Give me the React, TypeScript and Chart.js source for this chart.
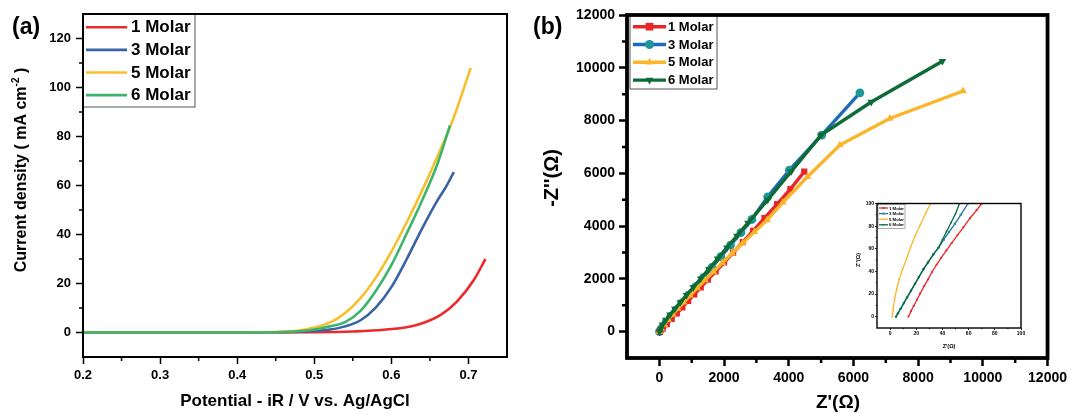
import React, { useEffect, useRef } from 'react';
import { Chart, registerables } from 'chart.js';
Chart.register(...registerables);

const FONT = '"Liberation Sans", Arial, Helvetica, sans-serif';

const SERIES_LABELS = ['1 Molar', '3 Molar', '5 Molar', '6 Molar'];

// ---------- (a) LSV : potential (V) vs current density (mA cm-2)
const lsvV_1M = [0.2, 0.3, 0.4, 0.5, 0.55, 0.59, 0.633, 0.664, 0.685, 0.707, 0.722];
const lsvJ_1M = [0, 0, 0, 0.1, 0.4, 1.1, 3.1, 7.2, 12.6, 21.4, 30.0];
const lsvV_3M = [0.2, 0.3, 0.4, 0.45, 0.5, 0.52, 0.54, 0.56, 0.58, 0.6, 0.62, 0.64, 0.66, 0.671, 0.681];
const lsvJ_3M = [0, 0, 0, 0.1, 0.6, 1.2, 2.5, 5.0, 10.3, 18.5, 30, 42.5, 54, 59.5, 65.5];
const lsvV_5M = [0.2, 0.3, 0.4, 0.45, 0.48, 0.5, 0.52, 0.54, 0.56, 0.58, 0.6, 0.62, 0.64, 0.66, 0.68, 0.703];
const lsvJ_5M = [0, 0, 0, 0.2, 0.8, 2.0, 4.0, 8.0, 14.0, 22.5, 33, 45, 58, 72, 87, 108];
const lsvV_6M = [0.2, 0.3, 0.4, 0.45, 0.48, 0.5, 0.52, 0.54, 0.56, 0.58, 0.6, 0.62, 0.64, 0.66, 0.676];
const lsvJ_6M = [0, 0, 0, 0.1, 0.5, 1.2, 2.5, 4.2, 8.8, 17, 27.5, 40.5, 54, 69, 84.5];

const LSV_X_TICKS = [0.2, 0.3, 0.4, 0.5, 0.6, 0.7];
const LSV_X_MINOR = [0.25, 0.35, 0.45, 0.55, 0.65];
const LSV_Y_TICKS = [0, 20, 40, 60, 80, 100, 120];
const LSV_Y_MINOR = [10, 30, 50, 70, 90, 110];

// ---------- (b) Nyquist : Z' vs -Z'' (ohm)
const eisX_1M = [14, 100, 230, 380, 540, 710, 890, 1080, 1280, 1500, 1740, 2000, 2280, 2580, 2900, 3250, 3640, 4050, 4480];
const eisY_1M = [0, 110, 280, 480, 690, 920, 1160, 1410, 1680, 1970, 2280, 2620, 2990, 3390, 3820, 4300, 4830, 5400, 6060];
const eisX_3M = [5, 80, 200, 350, 520, 700, 900, 1120, 1360, 1620, 1900, 2200, 2520, 2860, 3350, 4020, 5020, 6200];
const eisY_3M = [0, 140, 340, 570, 820, 1090, 1380, 1700, 2050, 2430, 2840, 3280, 3750, 4250, 5110, 6120, 7450, 9050];
const eisX_5M = [2, 60, 150, 270, 410, 570, 750, 950, 1170, 1410, 1670, 1950, 2250, 2580, 2940, 3330, 3820, 4580, 5580, 7120, 9390];
const eisY_5M = [0, 120, 270, 450, 650, 870, 1110, 1370, 1650, 1950, 2270, 2610, 2970, 3360, 3780, 4230, 4900, 5870, 7070, 8080, 9120];
const eisX_6M = [5, 40, 100, 200, 330, 480, 650, 840, 1050, 1280, 1530, 1800, 2090, 2400, 2740, 3350, 4070, 5000, 6550, 8750];
const eisY_6M = [0, 100, 260, 440, 640, 860, 1110, 1380, 1680, 2010, 2370, 2760, 3180, 3630, 4120, 4990, 6060, 7450, 8700, 10250];

const EIS_TICKS = [0, 2000, 4000, 6000, 8000, 10000, 12000];
const EIS_MINOR = [1000, 3000, 5000, 7000, 9000, 11000];

// ---------- inset (high-frequency zoom)
const insX_1M = [14, 16, 18, 20.5, 23, 26, 29, 32, 35.5, 39, 43, 47, 51.5, 56, 61, 66, 70];
const insY_1M = [0, 5, 9.5, 15, 20.5, 27, 33, 39.5, 46, 52, 58.5, 65, 72, 79, 87, 94, 100];
const insX_3M = [4.5, 6, 8, 10.5, 13, 16, 19, 22, 25.5, 29, 33, 37, 41, 45, 49.5, 54, 59.5];
const insY_3M = [0, 3, 7, 12, 17, 23, 29, 35, 42, 48, 55, 61, 68, 75, 82, 90, 100];
const insX_5M = [1.5, 2.5, 3.5, 5, 7, 9.5, 12.5, 15.5, 19, 23, 27, 31];
const insY_5M = [0, 8, 16, 24, 33, 42, 51, 61, 71, 81, 91, 100];
const insX_6M = [4.6, 6, 8, 10.5, 13, 16, 19, 22, 25.5, 29, 33, 37, 40, 43, 46.5, 50, 53];
const insY_6M = [0, 3, 7, 12, 17, 23, 29, 35, 42, 48, 55, 61, 68, 75, 83, 91, 100];

const INS_TICKS = [0, 20, 40, 60, 80, 100];
const INS_MINOR = [10, 30, 50, 70, 90];

// colours
const A_COLORS = ['#ec2a2b', '#3a62a6', '#f8bf2c', '#3db46c'];
const B_LINE = ['#e8262a', '#1e6db4', '#fbb52b', '#0e6b36'];
const B_MARK = ['#e8262a', '#1e9797', '#fbb52b', '#0e6b36'];

const pts = (xs: number[], ys: number[]) => xs.map((x, i) => ({ x, y: ys[i] }));

// ---------- plugins
function drawMarker(ctx: CanvasRenderingContext2D, style: string, rot: number, x: number, y: number, r: number, fill: string) {
  ctx.save();
  ctx.fillStyle = fill;
  ctx.beginPath();
  if (style === 'rect') {
    ctx.rect(x - r * 0.85, y - r * 0.85, r * 1.7, r * 1.7);
  } else if (style === 'circle') {
    ctx.arc(x, y, r, 0, Math.PI * 2);
  } else if (style === 'triangle') {
    let a = (rot * Math.PI) / 180;
    ctx.moveTo(x + Math.sin(a) * r, y - Math.cos(a) * r);
    a += (2 * Math.PI) / 3;
    ctx.lineTo(x + Math.sin(a) * r, y - Math.cos(a) * r);
    a += (2 * Math.PI) / 3;
    ctx.lineTo(x + Math.sin(a) * r, y - Math.cos(a) * r);
    ctx.closePath();
  }
  ctx.fill();
  ctx.restore();
}

const boxLegend = {
  id: 'boxLegend',
  afterDraw(chart: any, _a: any, o: any) {
    if (!o || !o.show) return;
    const { ctx, chartArea } = chart;
    const x0 = chartArea.left + o.dx;
    const y0 = chartArea.top + o.dy;
    ctx.save();
    ctx.fillStyle = '#fff';
    ctx.fillRect(x0, y0, o.w, o.h);
    ctx.strokeStyle = '#555';
    ctx.lineWidth = o.borderWidth;
    ctx.strokeRect(x0, y0, o.w, o.h);
    chart.data.datasets.forEach((ds: any, i: number) => {
      const cy = y0 + o.first + o.rowH * i;
      ctx.strokeStyle = ds.borderColor;
      ctx.lineWidth = o.lineWidth;
      ctx.beginPath();
      ctx.moveTo(x0 + o.lx0, cy);
      ctx.lineTo(x0 + o.lx1, cy);
      ctx.stroke();
      if (o.markers && ds.pointRadius > 0) {
        drawMarker(ctx, ds.pointStyle, ds.pointRotation || 0, x0 + (o.lx0 + o.lx1) / 2, cy, o.markerR, ds.pointBackgroundColor);
      }
      ctx.fillStyle = '#000';
      ctx.font = `bold ${o.fontSize}px ${FONT}`;
      ctx.textBaseline = 'middle';
      ctx.textAlign = 'left';
      ctx.fillText(ds.label, x0 + o.tx, cy + 0.5);
    });
    ctx.restore();
  },
};

const framePlugin = {
  id: 'frame',
  afterDraw(chart: any, _a: any, o: any) {
    const { ctx, chartArea: c } = chart;
    ctx.save();
    ctx.strokeStyle = '#000';
    ctx.lineWidth = o.width;
    ctx.strokeRect(c.left, c.top, c.right - c.left, c.bottom - c.top);
    ctx.restore();
  },
};

const minorTicks = {
  id: 'minorTicks',
  afterDraw(chart: any, _a: any, o: any) {
    const { ctx, chartArea: c, scales } = chart;
    ctx.save();
    ctx.strokeStyle = '#000';
    ctx.lineWidth = o.width;
    ctx.beginPath();
    (o.x || []).forEach((v: number) => {
      const px = scales.x.getPixelForValue(v);
      ctx.moveTo(px, c.bottom);
      ctx.lineTo(px, c.bottom + o.len);
    });
    (o.y || []).forEach((v: number) => {
      const py = scales.y.getPixelForValue(v);
      ctx.moveTo(c.left, py);
      ctx.lineTo(c.left - o.len, py);
    });
    ctx.stroke();
    ctx.restore();
  },
};

const textPlugin = {
  id: 'texts',
  afterDraw(chart: any, _a: any, o: any) {
    const ctx = chart.ctx;
    (o.items || []).forEach((it: any) => {
      ctx.save();
      ctx.translate(it.x, it.y);
      if (it.rot) ctx.rotate((it.rot * Math.PI) / 180);
      const main = `bold ${it.size}px ${FONT}`;
      const sup = `bold ${Math.round(it.size * 0.62)}px ${FONT}`;
      const segs = it.segs as any[];
      let total = 0;
      const ws = segs.map((s) => {
        ctx.font = s.sup ? sup : main;
        const w = ctx.measureText(s.t).width;
        total += w;
        return w;
      });
      let x = it.align === 'left' ? 0 : -total / 2;
      ctx.fillStyle = '#000';
      ctx.textBaseline = 'middle';
      ctx.textAlign = 'left';
      segs.forEach((s, i) => {
        ctx.font = s.sup ? sup : main;
        ctx.fillText(s.t, x, s.sup ? -it.size * 0.38 : 0);
        x += ws[i];
      });
      ctx.restore();
    });
  },
};

const PLUGINS = [boxLegend, framePlugin, minorTicks, textPlugin];

function axis(opts: {
  min: number; max: number; ticks: number[]; fit: (s: any) => void;
  font: number; pad: number; tick: number; tickW: number; fmt: (v: number) => string;
}) {
  return {
    type: 'linear' as const,
    min: opts.min,
    max: opts.max,
    afterBuildTicks: (s: any) => { s.ticks = opts.ticks.map((v) => ({ value: v })); },
    afterFit: opts.fit,
    ticks: {
      font: { family: FONT, size: opts.font, weight: 'bold' as const },
      color: '#000',
      padding: opts.pad,
      maxRotation: 0,
      autoSkip: false,
      callback: (v: any) => opts.fmt(Number(v)),
    },
    grid: { drawOnChartArea: false, drawTicks: true, tickLength: opts.tick, tickColor: '#000', tickWidth: opts.tickW },
    border: { display: false },
  };
}

function lsvConfig(): any {
  const sets = [
    [lsvV_1M, lsvJ_1M], [lsvV_3M, lsvJ_3M], [lsvV_5M, lsvJ_5M], [lsvV_6M, lsvJ_6M],
  ];
  return {
    type: 'line',
    data: {
      datasets: sets.map(([xs, ys], i) => ({
        label: SERIES_LABELS[i],
        data: pts(xs, ys),
        borderColor: A_COLORS[i],
        backgroundColor: A_COLORS[i],
        borderWidth: 2.6,
        pointRadius: 0,
        cubicInterpolationMode: 'monotone',
        order: 4 - i,
      })),
    },
    options: {
      responsive: true,
      maintainAspectRatio: false,
      animation: false,
      events: [],
      layout: { padding: { left: 0, top: 14, right: 23, bottom: 0 } },
      scales: {
        x: axis({ min: 0.2, max: 0.75, ticks: LSV_X_TICKS, fit: (s) => { s.height = 57; }, font: 13, pad: 4, tick: 7, tickW: 1.5, fmt: (v) => v.toFixed(1) }),
        y: axis({ min: -10, max: 130, ticks: LSV_Y_TICKS, fit: (s) => { s.width = 83; }, font: 13, pad: 5, tick: 7, tickW: 1.5, fmt: (v) => String(v) }),
      },
      plugins: {
        legend: { display: false },
        tooltip: { enabled: false },
        boxLegend: { show: true, dx: 0, dy: 0, w: 112, h: 93, first: 13.3, rowH: 22.6, lx0: 3, lx1: 44, tx: 48, fontSize: 17, lineWidth: 2.6, borderWidth: 1, markers: false },
        frame: { width: 2 },
        minorTicks: { x: LSV_X_MINOR, y: LSV_Y_MINOR, len: 4, width: 1.5 },
        texts: {
          items: [
            { segs: [{ t: '(a)' }], x: 12, y: 28, size: 23, align: 'left' },
            { segs: [{ t: 'Current density ( mA cm' }, { t: '-2', sup: true }, { t: ' )' }], x: 22, y: 170, rot: -90, size: 16 },
            { segs: [{ t: 'Potential - iR / V vs. Ag/AgCl' }], x: 295, y: 401, size: 17 },
          ],
        },
      },
    },
    plugins: PLUGINS,
  };
}

const B_STYLES = [
  { style: 'rect', rot: 0 },
  { style: 'circle', rot: 0 },
  { style: 'triangle', rot: 0 },
  { style: 'triangle', rot: 180 },
];
const B_ORDER = [3, 4, 2, 1];

function eisDatasets(sets: number[][][], lw: number, r: number) {
  return sets.map(([xs, ys], i) => ({
    label: SERIES_LABELS[i],
    data: pts(xs, ys),
    borderColor: B_LINE[i],
    backgroundColor: B_MARK[i],
    pointBackgroundColor: B_MARK[i],
    pointBorderColor: B_MARK[i],
    pointBorderWidth: 0,
    borderWidth: lw,
    pointRadius: r,
    pointStyle: B_STYLES[i].style,
    pointRotation: B_STYLES[i].rot,
    tension: 0,
    order: B_ORDER[i],
  }));
}

function eisConfig(): any {
  const sets = [[eisX_1M, eisY_1M], [eisX_3M, eisY_3M], [eisX_5M, eisY_5M], [eisX_6M, eisY_6M]];
  return {
    type: 'line',
    data: { datasets: eisDatasets(sets, 3.4, 4.4) },
    options: {
      responsive: true,
      maintainAspectRatio: false,
      animation: false,
      events: [],
      layout: { padding: { left: 0, top: 15, right: 22, bottom: 0 } },
      scales: {
        x: axis({ min: -1000, max: 12000, ticks: EIS_TICKS, fit: (s) => { s.height = 56; }, font: 14, pad: 4, tick: 8, tickW: 2.5, fmt: (v) => String(v) }),
        y: axis({ min: -1000, max: 12000, ticks: EIS_TICKS, fit: (s) => { s.width = 97; }, font: 14, pad: 4, tick: 8, tickW: 2.5, fmt: (v) => String(v) }),
      },
      plugins: {
        legend: { display: false },
        tooltip: { enabled: false },
        boxLegend: { show: true, dx: 3, dy: 0, w: 87, h: 74, first: 11.7, rowH: 17.8, lx0: 3, lx1: 36, tx: 38, fontSize: 13, lineWidth: 3.4, borderWidth: 1, markers: true, markerR: 4.5 },
        frame: { width: 3.8 },
        minorTicks: { x: EIS_MINOR, y: EIS_MINOR, len: 5, width: 2.5 },
        texts: {
          items: [
            { segs: [{ t: '(b)' }], x: 3, y: 28, size: 23, align: 'left' },
            { segs: [{ t: "-Z''(Ω)" }], x: 22, y: 178, rot: -90, size: 20 },
            { segs: [{ t: "Z'(Ω)" }], x: 308, y: 403, size: 19 },
          ],
        },
      },
    },
    plugins: PLUGINS,
  };
}

function insetConfig(): any {
  const sets = [[insX_1M, insY_1M], [insX_3M, insY_3M], [insX_5M, insY_5M], [insX_6M, insY_6M]];
  return {
    type: 'line',
    data: { datasets: eisDatasets(sets, 1.3, 1.3) },
    options: {
      responsive: true,
      maintainAspectRatio: false,
      animation: false,
      events: [],
      layout: { padding: { left: 0, top: 8.5, right: 9, bottom: 0 } },
      scales: {
        x: axis({ min: -10, max: 100, ticks: INS_TICKS, fit: (s) => { s.height = 27; }, font: 5, pad: 1, tick: 2, tickW: 0.8, fmt: (v) => String(v) }),
        y: axis({ min: -10, max: 100, ticks: INS_TICKS, fit: (s) => { s.width = 29; }, font: 5, pad: 1, tick: 2, tickW: 0.8, fmt: (v) => String(v) }),
      },
      plugins: {
        legend: { display: false },
        tooltip: { enabled: false },
        boxLegend: { show: true, dx: 1, dy: 1, w: 27, h: 24, first: 3.5, rowH: 5.6, lx0: 1, lx1: 10, tx: 11, fontSize: 4.3, lineWidth: 1.3, borderWidth: 0.5, markers: true, markerR: 1.2 },
        frame: { width: 1.4 },
        minorTicks: { x: INS_MINOR, y: INS_MINOR, len: 1.3, width: 0.8 },
        texts: {
          items: [
            { segs: [{ t: "Z''(Ω)" }], x: 10, y: 65, rot: -90, size: 5.5 },
            { segs: [{ t: "Z'(Ω)" }], x: 101, y: 151, size: 5.5 },
          ],
        },
      },
    },
    plugins: PLUGINS,
  };
}

function ChartBox({ config, style }: { config: () => any; style: React.CSSProperties }) {
  const ref = useRef<HTMLCanvasElement | null>(null);
  useEffect(() => {
    if (!ref.current) return;
    const chart = new Chart(ref.current, config());
    return () => chart.destroy();
  }, [config]);
  return (
    <div style={{ position: 'absolute', ...style }}>
      <canvas ref={ref} />
    </div>
  );
}

export default function App() {
  return (
    <div style={{ position: 'absolute', left: 0, top: 0, width: 1071, height: 414, background: '#fff', overflow: 'hidden' }}>
      <ChartBox config={lsvConfig} style={{ left: 0, top: 0, width: 530, height: 414 }} />
      <ChartBox config={eisConfig} style={{ left: 530, top: 0, width: 541, height: 414 }} />
      <ChartBox config={insetConfig} style={{ left: 848, top: 195, width: 182, height: 160 }} />
    </div>
  );
}
